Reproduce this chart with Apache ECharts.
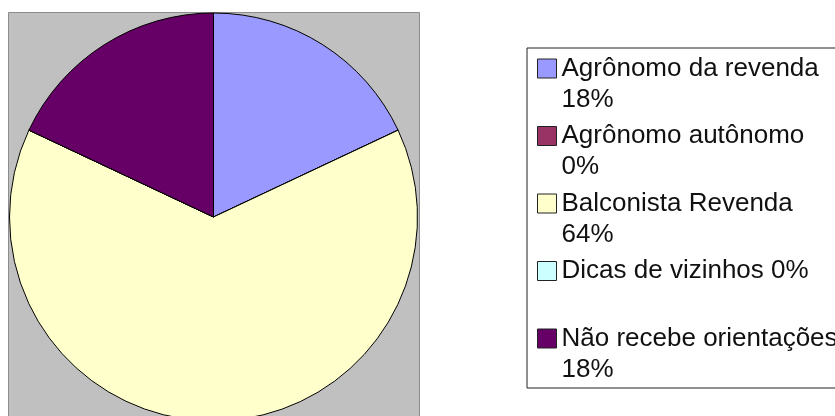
<!DOCTYPE html>
<html>
<head>
<meta charset="utf-8">
<script src="https://cdn.jsdelivr.net/npm/echarts@6/dist/echarts.min.js"></script>
<style>
  html, body { margin: 0; padding: 0; background: #fff; }
  #pie { width: 835px; height: 416px; }
</style>
</head>
<body>
<div id="pie"></div>
<script>
// categorias e percentuais
const categories = ['Agrônomo da revenda', 'Agrônomo autônomo', 'Balconista Revenda', 'Dicas de vizinhos', 'Não recebe orientações']
const values = [18, 0, 64, 0, 18]
const palette = ['#9999FF', '#993366', '#FFFFCC', '#CCFFFF', '#660066']

const legendFont = '26px "Liberation Sans", Arial, sans-serif'
const ctx = document.createElement('canvas').getContext('2d')
ctx.font = legendFont

// texto da legenda: nome + percentual, quebra a linha se não couber
function legendText(name) {
  const v = values[categories.indexOf(name)]
  const oneLine = name + ' ' + v + '%'
  if (ctx.measureText(oneLine).width <= 260) return oneLine + '\n '
  return name + '\n' + v + '%'
}

const chart = echarts.init(document.getElementById('pie'))
chart.setOption({
  animation: false,
  color: palette,
  graphic: [{
    type: 'rect',
    z: 0,
    shape: { x: 8.5, y: 12.5, width: 411, height: 420 },
    style: { fill: '#C0C0C0', stroke: '#8c8c8c', lineWidth: 1 }
  }],
  legend: {
    orient: 'vertical',
    left: 527,
    top: 48,
    padding: [5, 40, 3, 10],
    itemGap: 5.5,
    itemWidth: 19,
    itemHeight: 50,
    icon: 'path://M0,0L19,0L19,19L0,19Z M0,50',
    itemStyle: { borderColor: '#222', borderWidth: 1 },
    selectedMode: false,
    backgroundColor: '#fff',
    borderColor: '#222',
    borderWidth: 1,
    borderRadius: 0,
    formatter: legendText,
    textStyle: {
      fontFamily: '"Liberation Sans", Arial, sans-serif',
      fontSize: 26,
      lineHeight: 31,
      color: '#111'
    },
    data: categories
  },
  series: [{
    type: 'pie',
    z: 2,
    center: [213.5, 217],
    radius: 204,
    startAngle: 90,
    clockwise: true,
    avoidLabelOverlap: false,
    label: { show: false },
    labelLine: { show: false },
    emphasis: { disabled: true },
    itemStyle: { borderColor: '#000', borderWidth: 1 },
    data: categories.map((name, i) => ({ name: name, value: values[i] }))
  }]
})
</script>
</body>
</html>
